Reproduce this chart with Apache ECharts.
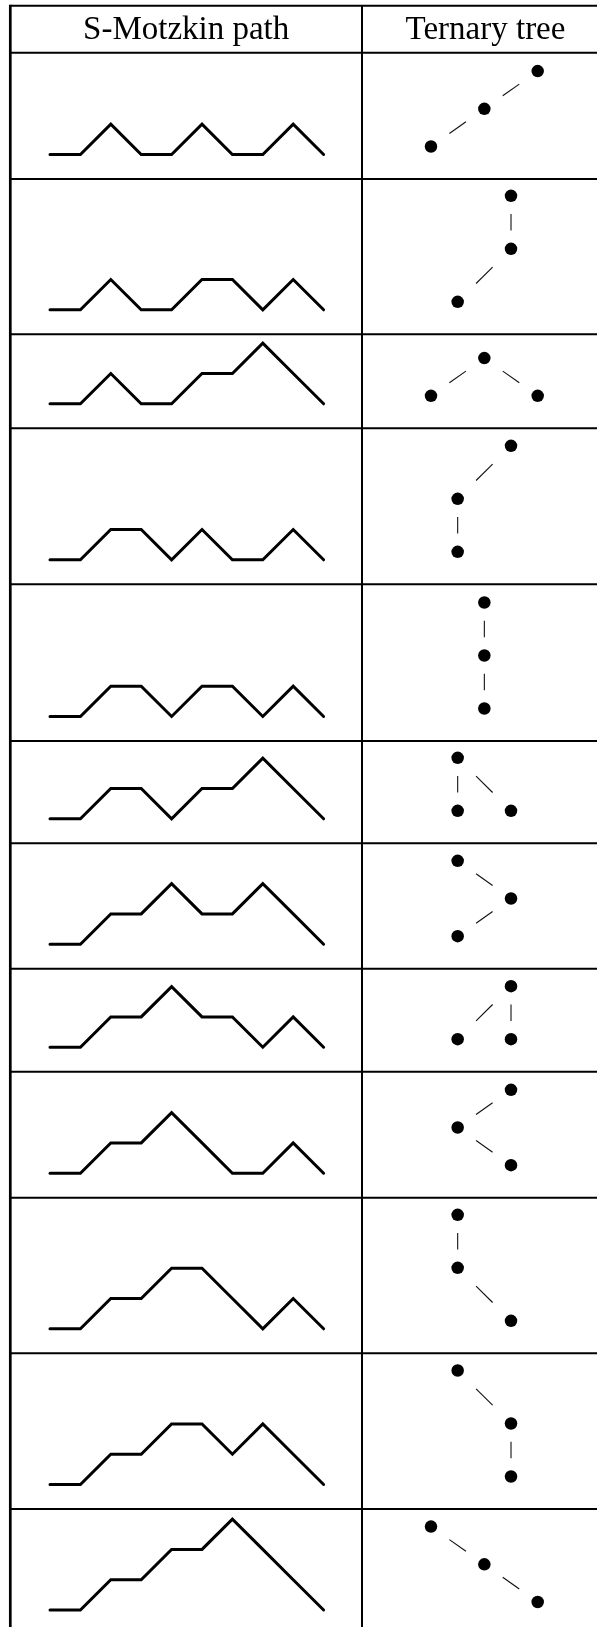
<!DOCTYPE html>
<html>
<head>
<meta charset="utf-8">
<title>S-Motzkin paths and ternary trees</title>
<script src="https://cdn.jsdelivr.net/npm/echarts@6/dist/echarts.min.js"></script>
<style>
    html, body { margin: 0; padding: 0; background: #fff; }
    #chart { width: 597px; height: 1627px; }
</style>
</head>
<body>
<div id="chart"></div>
<script>
// column headings
var headers = ['S-Motzkin path', 'Ternary tree'];

// height of each S-Motzkin path after every step (10 points = 9 steps)
var pathHeights = [
    [0, 0, 1, 0, 0, 1, 0, 0, 1, 0],
    [0, 0, 1, 0, 0, 1, 1, 0, 1, 0],
    [0, 0, 1, 0, 0, 1, 1, 2, 1, 0],
    [0, 0, 1, 1, 0, 1, 0, 0, 1, 0],
    [0, 0, 1, 1, 0, 1, 1, 0, 1, 0],
    [0, 0, 1, 1, 0, 1, 1, 2, 1, 0],
    [0, 0, 1, 1, 2, 1, 1, 2, 1, 0],
    [0, 0, 1, 1, 2, 1, 1, 0, 1, 0],
    [0, 0, 1, 1, 2, 1, 0, 0, 1, 0],
    [0, 0, 1, 1, 2, 2, 1, 0, 1, 0],
    [0, 0, 1, 1, 2, 2, 1, 2, 1, 0],
    [0, 0, 1, 1, 2, 2, 3, 2, 1, 0]
];

// ternary tree nodes: [column, depth, parent index]
// (left child = 2 columns left, middle = same column, right = 2 columns right)
var treeNodes = [
    [[4, 0, -1], [2, 1, 0], [0, 2, 1]],
    [[3, 0, -1], [3, 1, 0], [1, 2, 1]],
    [[2, 0, -1], [0, 1, 0], [4, 1, 0]],
    [[3, 0, -1], [1, 1, 0], [1, 2, 1]],
    [[2, 0, -1], [2, 1, 0], [2, 2, 1]],
    [[1, 0, -1], [1, 1, 0], [3, 1, 0]],
    [[1, 0, -1], [3, 1, 0], [1, 2, 1]],
    [[3, 0, -1], [1, 1, 0], [3, 1, 0]],
    [[3, 0, -1], [1, 1, 0], [3, 2, 1]],
    [[1, 0, -1], [1, 1, 0], [3, 2, 1]],
    [[1, 0, -1], [3, 1, 0], [3, 2, 1]],
    [[0, 0, -1], [2, 1, 0], [4, 2, 1]]
];

// layout of the table (pixels)
var rowBottoms = [179, 334.3, 428.3, 584.3, 741, 843.3, 968.7, 1071.7, 1197.7, 1353.3, 1509, 1634.5];
var tableTop = 5.7, headerBottom = 52.7;
var leftX = 10.3, midX = 362, rightX = 609;
var pathLeft = 50, stepW = 30.4, stepH = 30.3;
var treeLeft = 431, colW = 26.67;

var chart = echarts.init(document.getElementById('chart'), null, {renderer: 'canvas'});

var grids = [], xAxes = [], yAxes = [], series = [];

function addGrid(box, xMax, yMax, inverse) {
    var idx = grids.length;
    grids.push(Object.assign({outerBoundsMode: 'none', containLabel: false}, box));
    xAxes.push({gridIndex: idx, type: 'value', min: 0, max: xMax, show: false});
    yAxes.push({gridIndex: idx, type: 'value', min: 0, max: yMax, inverse: !!inverse, show: false});
    return idx;
}

pathHeights.forEach(function (heights, r) {
    var base = rowBottoms[r] - 24.5;

    // the lattice path
    var g = addGrid({left: pathLeft, top: base - 3 * stepH, width: 9 * stepW, height: 3 * stepH}, 9, 3);
    series.push({
        type: 'line',
        xAxisIndex: g,
        yAxisIndex: g,
        data: heights.map(function (h, k) { return [k, h]; }),
        symbol: 'none',
        clip: false,
        silent: true,
        lineStyle: {color: '#000', width: 3, cap: 'round', join: 'miter'}
    });

    // the ternary tree
    var nodes = treeNodes[r];
    var maxDepth = Math.max.apply(null, nodes.map(function (n) { return n[1]; }));
    var hasMiddle = nodes.some(function (n) { return n[2] >= 0 && nodes[n[2]][0] === n[0]; });
    var levelH = hasMiddle ? 53 : 37.7;
    var bottom = base - 8;
    var t = addGrid({left: treeLeft, top: bottom - maxDepth * levelH, width: 4 * colW, height: maxDepth * levelH}, 4, maxDepth, true);

    var edges = [];
    nodes.forEach(function (n) {
        if (n[2] >= 0) {
            var p = nodes[n[2]];
            edges.push([p[0], p[1], n[0], n[1]]);
        }
    });
    series.push({
        type: 'custom',
        xAxisIndex: t,
        yAxisIndex: t,
        silent: true,
        encode: {x: [0, 2], y: [1, 3]},
        data: edges,
        renderItem: function (params, api) {
            var a = api.coord([api.value(0), api.value(1)]);
            var b = api.coord([api.value(2), api.value(3)]);
            var s = 0.345, e = 0.655;
            return {
                type: 'line',
                shape: {
                    x1: a[0] + (b[0] - a[0]) * s, y1: a[1] + (b[1] - a[1]) * s,
                    x2: a[0] + (b[0] - a[0]) * e, y2: a[1] + (b[1] - a[1]) * e
                },
                style: {stroke: '#111', lineWidth: 1.1}
            };
        }
    });
    series.push({
        type: 'scatter',
        xAxisIndex: t,
        yAxisIndex: t,
        data: nodes.map(function (n) { return [n[0], n[1]]; }),
        symbol: 'circle',
        symbolSize: 12.5,
        clip: false,
        silent: true,
        itemStyle: {color: '#000', opacity: 1}
    });
});

// table rules and headings
var graphics = [];
function rule(x1, y1, x2, y2, w) {
    graphics.push({type: 'line', silent: true, shape: {x1: x1, y1: y1, x2: x2, y2: y2}, style: {stroke: '#000', lineWidth: w}});
}
rule(leftX, tableTop, rightX, tableTop, 2);
rule(leftX, headerBottom, rightX, headerBottom, 2);
rowBottoms.forEach(function (y) { rule(leftX, y, rightX, y, 2); });
rule(leftX, tableTop - 1, leftX, 1640, 2.7);
rule(midX, tableTop, midX, 1640, 2);

var centers = [(leftX + midX) / 2, (midX + rightX) / 2];
headers.forEach(function (h, i) {
    graphics.push({
        type: 'text',
        silent: true,
        x: centers[i],
        y: 30,
        style: {
            text: h,
            font: '33px "Liberation Serif", serif',
            fill: '#000',
            align: 'center',
            verticalAlign: 'middle',
            textAlign: 'center',
            textVerticalAlign: 'middle'
        }
    });
});

chart.setOption({
    animation: false,
    backgroundColor: '#fff',
    grid: grids,
    xAxis: xAxes,
    yAxis: yAxes,
    series: series,
    graphic: graphics
});
</script>
</body>
</html>
